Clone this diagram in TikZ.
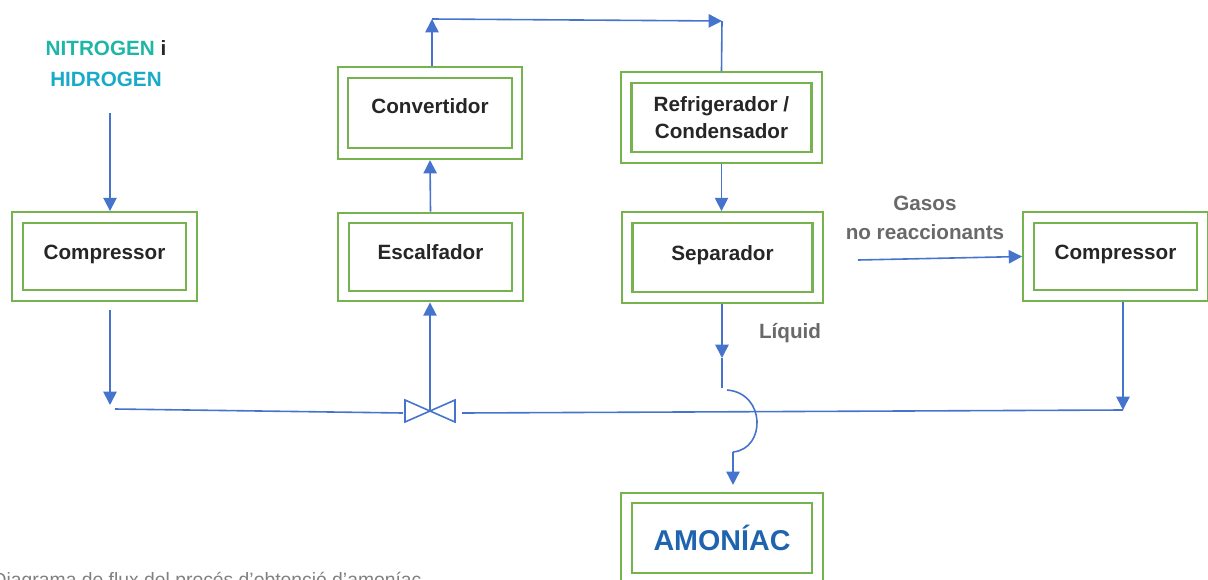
\documentclass[tikz,border=0pt]{standalone}
\usepackage{fontspec}
\setmainfont{Liberation Sans}
\usetikzlibrary{arrows.meta,positioning}

\definecolor{flowblue}{RGB}{70,116,205}
\definecolor{boxgreen}{RGB}{118,178,78}
\definecolor{nteal}{RGB}{30,182,166}
\definecolor{hcyan}{RGB}{24,170,200}
\definecolor{nhblue}{RGB}{31,100,174}
\definecolor{notegray}{RGB}{105,105,105}

\tikzset{every node/.style={font=\fontsize{15.5}{20}\selectfont\bfseries},
  unit/.style={draw=boxgreen, double=white, line width=1.6pt,
    double distance=6.4pt, outer sep=4.8pt, inner sep=0pt, align=center,
    text=black!85, minimum width=130.5pt, minimum height=58.5pt},
  wideunit/.style={unit, minimum width=143pt, minimum height=60pt},
  raised/.style={text height=11pt, text depth=7pt},
  flow/.style={draw=flowblue, line width=1.2pt},
  arr/.style={flow, -{Triangle[length=10pt,width=10pt]}},
  note/.style={text=notegray, align=center}}

\begin{document}
\begin{tikzpicture}[x=0.75pt,y=-0.75pt]
\useasboundingbox (0,0) rectangle (1208,579);
\clip (0,0) rectangle (1208,579);

% units of the plant
\node[unit, raised] (compA) at (104.5,256.5) {Compressor};
\node[unit, raised] (heater) at (430.5,257) {Escalfador};
\node[unit, minimum height=61pt, text height=11pt, text depth=11pt] (conv) at (430,113) {Convertidor};
\node[wideunit] (cooler) at (721.5,117.5) {Refrigerador /\\Condensador};
\node[wideunit, raised] (sep) at (722.5,257.5) {Separador};
\node[unit, raised, overlay] (compB) at (1115.5,256.5) {Compressor};
\node[wideunit, overlay, text=nhblue, font=\fontsize{21.5}{26}\selectfont\bfseries] (nh3) at (722,538) {AMONÍAC};

% feed and labels
\node[align=center, font=\fontsize{15.5}{23}\selectfont\bfseries] (feed) at (106,63.5)
  {\textcolor{nteal}{NITROGEN} \textcolor{black!85}{i}\\\textcolor{hcyan}{HIDROGEN}};
\node[note, font=\fontsize{15.5}{21.75}\selectfont\bfseries] (gaslbl) at (925,217.5) {Gasos\\no reaccionants};
\node[note] (liqlbl) at (790,333) {Líquid};
\node[overlay, anchor=base west, text=gray, font=\fontsize{14.5}{17}\selectfont] (caption) at (-12,586)
  {Diagrama de flux del procés d'obtenció d'amoníac};

\coordinate (feedout) at (110,113);
\coordinate (mixtop) at (110,310);
\coordinate (mixend) at (110,405);
\coordinate (mixin) at (115,409);
\coordinate (valveL) at (403,413);
\coordinate (valve) at (430,411);
\coordinate (valveR) at (462,413);
\coordinate (recyc) at (1123,410);
\coordinate (loopL) at (432,19);
\coordinate (loopR) at (722,21);
\coordinate (liqmid) at (722,358);
\coordinate (hopin) at (722,388);
\coordinate (hopstart) at (727,390);
\coordinate (hopout) at (733,452);
\coordinate (gasin) at (858,260);

% fresh gas to the mixing line
\draw[arr] (feedout) -- (feedout |- compA.north);
\draw[arr] (mixtop) -- (mixend);
\draw[flow] (mixin) -- (valveL);
\draw[flow] (valveR) -- (recyc);
\draw[flow] (valve) -- (405,400) -- (405,422) -- cycle
            (valve) -- (455,400) -- (455,422) -- cycle;

% reactor loop
\draw[arr] (valve) -- (valve |- heater.south);
\draw[arr] (heater.north) -- (conv.south);
\draw[arr] (conv.north -| loopL) -- (loopL);
\draw[arr] (loopL) -- (loopR);
\draw[flow] (loopR) -- (cooler.north);
\draw[arr] (cooler.south) -- (cooler.south |- sep.north);

% liquid out, hopping over the return line
\draw[arr] (sep.south -| liqmid) -- (liqmid);
\draw[flow] (liqmid) -- (hopin);
\draw[flow] (hopstart) .. controls (766,393) and (766,449) .. (hopout);
\draw[arr, shorten >=5pt] (hopout) -- (hopout |- nh3.north);

% unreacted gases back
\draw[arr] (gasin) -- (compB.west);
\draw[arr] (compB.south -| recyc) -- (recyc);
\end{tikzpicture}
\end{document}
